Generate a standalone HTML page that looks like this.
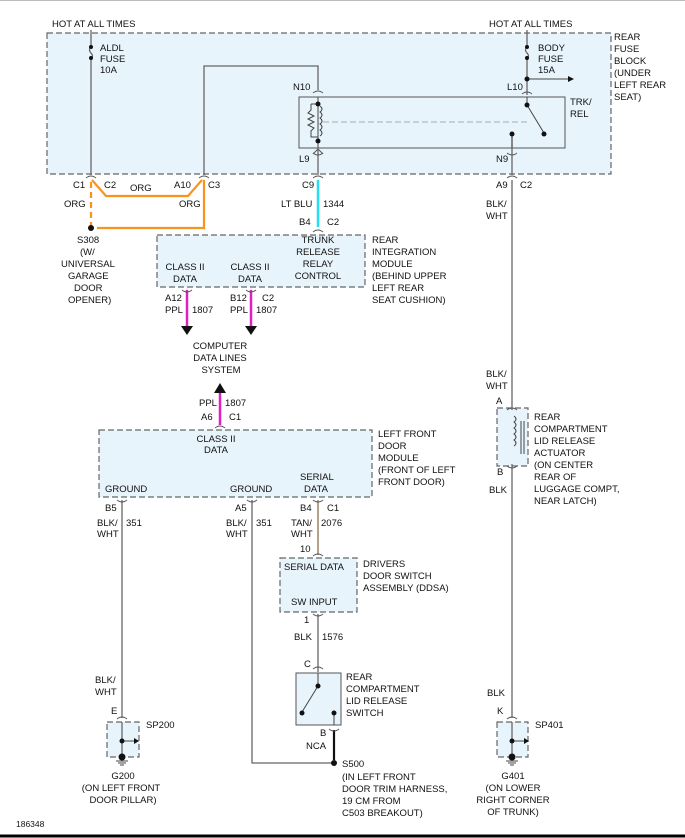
<!DOCTYPE html>
<html><head><style>
html,body{margin:0;padding:0;background:#fff;width:685px;height:838px;overflow:hidden}
svg text{font-family:"Liberation Sans",Arial,sans-serif;font-size:9.5px;fill:#111}
</style></head><body>
<svg width="685" height="838" viewBox="0 0 685 838" xmlns="http://www.w3.org/2000/svg">
<rect x="0" y="0" width="685" height="838" fill="#fff"/>
<line x1="0" y1="0.5" x2="685" y2="0.5" stroke="#bbb"/>
<line x1="0" y1="836" x2="685" y2="836" stroke="#000" stroke-width="3"/>
<g fill="#e8f4fc" stroke="#666" stroke-dasharray="6,3" stroke-width="1.2">
<rect x="47" y="33" width="564" height="141"/>
<rect x="157" y="235" width="208" height="52"/>
<rect x="99" y="430" width="273" height="67"/>
<rect x="280" y="558" width="77" height="54"/>
<rect x="497" y="408" width="31" height="58"/>
<rect x="107" y="722" width="32" height="35"/>
<rect x="497" y="722" width="31" height="35"/>
</g>
<rect x="299" y="97" width="266" height="51" fill="#e8f4fc" stroke="#555" stroke-width="1"/>
<rect x="296" y="673" width="45" height="52" fill="#e8f4fc" stroke="#555" stroke-width="1"/>
<!-- gray wires -->
<g stroke="#666" stroke-width="1.3" fill="none">
<line x1="91" y1="30" x2="91" y2="46"/><line x1="91" y1="58" x2="91" y2="175"/>
<path d="M91 47 q-3 3 0 6 q3 3 0 5"/>
<path d="M204 175 V66 H318 V90"/>
<line x1="318" y1="150" x2="318" y2="175"/>
<line x1="527" y1="30" x2="527" y2="46"/><line x1="527" y1="58" x2="527" y2="95"/>
<path d="M527 47 q-3 3 0 6 q3 3 0 5"/>
<line x1="527" y1="79" x2="568" y2="79"/>
<line x1="512" y1="135" x2="512" y2="175"/>
<line x1="512" y1="180" x2="512" y2="410"/>
<line x1="512" y1="464" x2="512" y2="718"/>
<line x1="122" y1="500" x2="122" y2="718"/>
<path d="M252 500 V763 H334"/>
<line x1="318" y1="614" x2="318" y2="672"/>
<line x1="512" y1="722" x2="512" y2="757"/>
<line x1="122" y1="722" x2="122" y2="757"/>
</g>
<polygon points="568,76 574,79 568,82" fill="#111"/>
<line x1="318" y1="500" x2="318" y2="555" stroke="#a08a6a" stroke-width="1.6"/>
<line x1="318" y1="180" x2="318" y2="227" stroke="#22e0f0" stroke-width="2.5"/>
<!-- orange -->
<g stroke="#f7931e" stroke-width="2.2" fill="none">
<path d="M92 180 L106 196 H188 L202 180"/>
<path d="M204 180 V228 H97"/>
<line x1="91" y1="182" x2="91" y2="226" stroke-dasharray="6,4"/>
</g>
<circle cx="91" cy="228" r="3" fill="#111"/>
<!-- magenta -->
<g stroke="#e020c0" stroke-width="2.5">
<line x1="187" y1="290" x2="187" y2="327"/>
<line x1="251" y1="290" x2="251" y2="327"/>
<line x1="220" y1="393" x2="220" y2="425"/>
</g>
<g fill="#111">
<polygon points="181,326 193,326 187,335"/>
<polygon points="245,326 257,326 251,335"/>
<polygon points="214,393 226,393 220,383"/>
</g>
<!-- black NCA -->
<line x1="334" y1="730" x2="334" y2="760" stroke="#111" stroke-width="2.2"/>
<circle cx="334" cy="763" r="3" fill="#111"/>
<!-- connector arcs -->
<g stroke="#555" stroke-width="1" fill="none">
<path d="M86 178 q5 -4 10 0"/><path d="M199 178 q5 -4 10 0"/>
<path d="M313 178 q5 -4 10 0"/><path d="M507 178 q5 -4 10 0"/>
<path d="M313 93 q5 -4 10 0"/><path d="M313 153 q5 4 10 0"/>
<path d="M522 94 q5 -4 10 0"/><path d="M507 153 q5 4 10 0"/>
<path d="M313 232 q5 -4 10 0"/>
<path d="M182 290 q5 4 10 0"/><path d="M246 290 q5 4 10 0"/>
<path d="M215 428 q5 -4 10 0"/>
<path d="M117 500 q5 4 10 0"/><path d="M247 500 q5 4 10 0"/><path d="M313 500 q5 4 10 0"/>
<path d="M313 556 q5 -4 10 0"/><path d="M313 614 q5 4 10 0"/>
<path d="M313 669 q5 -4 10 0"/><path d="M329 729 q5 4 10 0"/>
<path d="M507 410 q5 -4 10 0"/><path d="M507 466 q5 4 10 0"/>
<path d="M117 719 q5 -4 10 0"/><path d="M507 719 q5 -4 10 0"/>
<path d="M313 154 l5 -5 l5 5"/>
</g>
<g stroke="#444" stroke-width="1" fill="none">
<!-- relay coil -->
<line x1="318" y1="97" x2="318" y2="148"/>
<path d="M311 104 v6 l-3 3 l6 3 l-6 3 l6 3 l-6 3 l6 3 l-3 3 v6 h7"/>
<path d="M311 104 h7"/>
<path d="M320 106 q4 3 0 6 q4 3 0 6 q4 3 0 6 q4 3 0 6 q4 3 0 6"/>
<line x1="323" y1="122" x2="530" y2="122" stroke="#aaa" stroke-dasharray="6,3"/>
<line x1="527" y1="97" x2="527" y2="105"/>
<line x1="527" y1="105" x2="544" y2="133"/>
<line x1="512" y1="134" x2="512" y2="148"/>
<!-- switch -->
<line x1="318" y1="673" x2="318" y2="686"/>
<line x1="318" y1="686" x2="302" y2="712"/>
<line x1="334" y1="713" x2="334" y2="725"/>
<!-- actuator -->
<path d="M514 416 q4 3 0 6 q4 3 0 6 q4 3 0 6 q4 3 0 6 q4 3 0 6"/>
<line x1="521" y1="421" x2="521" y2="454"/><line x1="524" y1="421" x2="524" y2="454"/>
<!-- splice arrows -->
<line x1="122" y1="741" x2="134" y2="741"/><line x1="512" y1="741" x2="524" y2="741"/>
</g>
<g fill="#111">
<circle cx="318" cy="104" r="2.5"/><circle cx="318" cy="141" r="2.5"/>
<circle cx="527" cy="79" r="2.5"/><circle cx="527" cy="105" r="2.5"/><circle cx="544" cy="134" r="2.5"/><circle cx="512" cy="134" r="2.5"/>
<circle cx="91" cy="47" r="2"/><circle cx="91" cy="58" r="2"/>
<circle cx="527" cy="47" r="2"/><circle cx="527" cy="58" r="2"/>
<circle cx="318" cy="686" r="2.5"/><circle cx="302" cy="713" r="2.5"/><circle cx="334" cy="713" r="2.5"/>
<circle cx="122" cy="741" r="2.5"/><circle cx="122" cy="757" r="3.5"/>
<circle cx="512" cy="741" r="2.5"/><circle cx="512" cy="757" r="3.5"/>
<polygon points="134,738 139,741 134,744"/><polygon points="524,738 529,741 524,744"/>
</g>
<g stroke="#444" stroke-width="1">
<line x1="116" y1="761" x2="128" y2="761"/><line x1="118" y1="763" x2="126" y2="763"/><line x1="120" y1="765" x2="124" y2="765"/>
<line x1="506" y1="761" x2="518" y2="761"/><line x1="508" y1="763" x2="516" y2="763"/><line x1="510" y1="765" x2="514" y2="765"/>
</g>
<!-- texts -->
<text x="52" y="27">HOT AT ALL TIMES</text>
<text x="489" y="27">HOT AT ALL TIMES</text>
<text x="100" y="51">ALDL</text><text x="100" y="62">FUSE</text><text x="100" y="73">10A</text>
<text x="538" y="51">BODY</text><text x="538" y="62">FUSE</text><text x="538" y="73">15A</text>
<text x="614" y="40">REAR</text><text x="614" y="52">FUSE</text><text x="614" y="64">BLOCK</text><text x="614" y="76">(UNDER</text><text x="614" y="88">LEFT REAR</text><text x="614" y="100">SEAT)</text>
<text x="570" y="105">TRK/</text><text x="570" y="117">REL</text>
<text x="293" y="90">N10</text><text x="507" y="90">L10</text>
<text x="299" y="162">L9</text><text x="496" y="162">N9</text>
<text x="73" y="188">C1</text><text x="104" y="188">C2</text><text x="130" y="191">ORG</text>
<text x="174" y="188">A10</text><text x="208" y="188">C3</text>
<text x="64" y="207">ORG</text><text x="179" y="207">ORG</text>
<text x="302" y="188">C9</text><text x="496" y="188">A9</text><text x="520" y="188">C2</text>
<text x="281" y="207">LT BLU</text><text x="323" y="207">1344</text>
<text x="299" y="225">B4</text><text x="327" y="225">C2</text>
<text x="486" y="207">BLK/</text><text x="486" y="219">WHT</text>
<text x="77" y="243">S308</text><text x="80" y="255">(W/</text><text x="61" y="267">UNIVERSAL</text><text x="68" y="279">GARAGE</text><text x="74" y="291">DOOR</text><text x="68" y="303">OPENER)</text>
<text x="318" y="243" text-anchor="middle">TRUNK</text><text x="318" y="255" text-anchor="middle">RELEASE</text><text x="318" y="267" text-anchor="middle">RELAY</text><text x="318" y="279" text-anchor="middle">CONTROL</text>
<text x="185" y="270" text-anchor="middle">CLASS II</text><text x="185" y="282" text-anchor="middle">DATA</text>
<text x="250" y="270" text-anchor="middle">CLASS II</text><text x="250" y="282" text-anchor="middle">DATA</text>
<text x="372" y="243">REAR</text><text x="372" y="255">INTEGRATION</text><text x="372" y="267">MODULE</text><text x="372" y="279">(BEHIND UPPER</text><text x="372" y="291">LEFT REAR</text><text x="372" y="303">SEAT CUSHION)</text>
<text x="165" y="301">A12</text><text x="165" y="313">PPL</text><text x="192" y="313">1807</text>
<text x="230" y="301">B12</text><text x="262" y="301">C2</text><text x="230" y="313">PPL</text><text x="256" y="313">1807</text>
<text x="220" y="349" text-anchor="middle">COMPUTER</text><text x="220" y="361" text-anchor="middle">DATA LINES</text><text x="221" y="373" text-anchor="middle">SYSTEM</text>
<text x="199" y="406">PPL</text><text x="225" y="406">1807</text>
<text x="201" y="420">A6</text><text x="229" y="420">C1</text>
<text x="216" y="442" text-anchor="middle">CLASS II</text><text x="216" y="453" text-anchor="middle">DATA</text>
<text x="378" y="437">LEFT FRONT</text><text x="378" y="449">DOOR</text><text x="378" y="461">MODULE</text><text x="378" y="473">(FRONT OF LEFT</text><text x="378" y="485">FRONT DOOR)</text>
<text x="300" y="480">SERIAL</text><text x="304" y="492">DATA</text>
<text x="105" y="492">GROUND</text><text x="230" y="492">GROUND</text>
<text x="105" y="511">B5</text><text x="235" y="511">A5</text><text x="300" y="511">B4</text><text x="327" y="511">C1</text>
<text x="97" y="526">BLK/</text><text x="97" y="537">WHT</text><text x="126" y="526">351</text>
<text x="226" y="526">BLK/</text><text x="226" y="537">WHT</text><text x="256" y="526">351</text>
<text x="291" y="526">TAN/</text><text x="291" y="537">WHT</text><text x="321" y="526">2076</text>
<text x="300" y="552">10</text>
<text x="284" y="570">SERIAL DATA</text><text x="291" y="605">SW INPUT</text>
<text x="363" y="567">DRIVERS</text><text x="363" y="579">DOOR SWITCH</text><text x="363" y="591">ASSEMBLY (DDSA)</text>
<text x="304" y="623">1</text><text x="294" y="640">BLK</text><text x="322" y="640">1576</text>
<text x="304" y="667">C</text>
<text x="346" y="680">REAR</text><text x="346" y="692">COMPARTMENT</text><text x="346" y="704">LID RELEASE</text><text x="346" y="716">SWITCH</text>
<text x="320" y="736">B</text><text x="306" y="749">NCA</text>
<text x="342" y="767">S500</text><text x="342" y="780">(IN LEFT FRONT</text><text x="342" y="792">DOOR TRIM HARNESS,</text><text x="342" y="804">19 CM FROM</text><text x="342" y="816">C503 BREAKOUT)</text>
<text x="95" y="683">BLK/</text><text x="95" y="695">WHT</text><text x="111" y="714">E</text>
<text x="146" y="728">SP200</text>
<text x="123" y="779" text-anchor="middle">G200</text><text x="121" y="791" text-anchor="middle">(ON LEFT FRONT</text><text x="123" y="803" text-anchor="middle">DOOR PILLAR)</text>
<text x="486" y="377">BLK/</text><text x="486" y="389">WHT</text><text x="496" y="404">A</text>
<text x="534" y="420">REAR</text><text x="534" y="432">COMPARTMENT</text><text x="534" y="444">LID RELEASE</text><text x="534" y="456">ACTUATOR</text><text x="534" y="468">(ON CENTER</text><text x="534" y="480">REAR OF</text><text x="534" y="492">LUGGAGE COMPT,</text><text x="534" y="504">NEAR LATCH)</text>
<text x="497" y="475">B</text><text x="489" y="493">BLK</text>
<text x="487" y="696">BLK</text><text x="497" y="714">K</text>
<text x="535" y="728">SP401</text>
<text x="513" y="779" text-anchor="middle">G401</text><text x="513" y="791" text-anchor="middle">(ON LOWER</text><text x="513" y="803" text-anchor="middle">RIGHT CORNER</text><text x="513" y="815" text-anchor="middle">OF TRUNK)</text>
<text x="16" y="827" style="font-size:8.5px">186348</text>
</svg>
</body></html>
